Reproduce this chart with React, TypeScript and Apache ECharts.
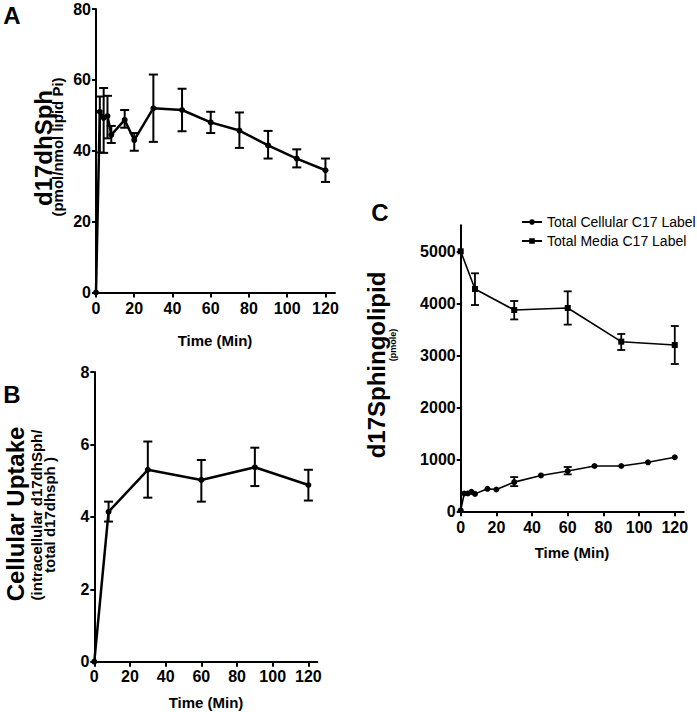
import React, { useEffect, useRef } from "react";
import * as echarts from "echarts";

// Panel A: d17dhSph
const tA = [0, 2, 4, 6, 8, 15, 20, 30, 45, 60, 75, 90, 105, 120];
const vA = [0, 51, 49.3, 49.8, 44.5, 48.7, 43, 52, 51.5, 48, 45.7, 41.5, 37.8, 34.5];
const lowA = [null, 39.5, 39.4, 43.5, 42.2, 46.5, 40, 42.5, 45.5, 45, 40.8, 37.8, 35.3, 31.2];
const highA = [null, 55.3, 57.7, 55.5, 47, 51.5, 45, 61.5, 57.5, 51, 50.8, 45.6, 40.4, 37.8];

// Panel B: Cellular uptake
const tB = [0, 8, 30, 60, 90, 120];
const vB = [0, 4.14, 5.3, 5.02, 5.37, 4.88];
const lowB = [null, 3.87, 4.53, 4.42, 4.85, 4.45];
const highB = [null, 4.42, 6.08, 5.57, 5.91, 5.3];

// Panel C: d17Sphingolipid
const tCell = [0, 2, 4, 6, 8, 15, 20, 30, 45, 60, 75, 90, 105, 120];
const vCell = [20, 342, 342, 374, 335, 432, 419, 561, 690, 774, 871, 871, 942, 1039];
const lowCell = [null, null, null, null, null, null, null, 484, null, 710, null, null, null, null];
const highCell = [null, null, null, null, null, null, null, 658, null, 852, null, null, null, null];
const tMed = [0, 8, 30, 60, 90, 120];
const vMed = [5000, 4275, 3871, 3910, 3262, 3198];
const lowMed = [null, 3967, 3690, 3590, 3102, 2833];
const highMed = [null, 4577, 4044, 4230, 3410, 3563];

const xTicks = [0, 20, 40, 60, 80, 100, 120];
const yTicksA = [0, 20, 40, 60, 80];
const yTicksB = [0, 2, 4, 6, 8];
const yTicksC = [0, 1000, 2000, 3000, 4000, 5000];

const seriesNameCell = "Total Cellular C17 Label";
const seriesNameMed = "Total Media C17 Label";

const FONT = "Liberation Sans, Arial, sans-serif";

function pairs(t: number[], v: number[]) {
  return t.map((x, i) => [x, v[i]]);
}
function errData(t: number[], lo: (number | null)[], hi: (number | null)[]) {
  const out: number[][] = [];
  t.forEach((x, i) => {
    if (lo[i] != null && hi[i] != null) out.push([x, lo[i] as number, hi[i] as number]);
  });
  return out;
}

function errSeries(data: number[][], idx: number, lw: number, cap: number) {
  return {
    type: "custom",
    xAxisIndex: idx,
    yAxisIndex: idx,
    z: 5,
    silent: true,
    encode: { x: 0, y: [1, 2] },
    data,
    renderItem: (params: any, api: any) => {
      const x = api.value(0);
      const p1 = api.coord([x, api.value(1)]);
      const p2 = api.coord([x, api.value(2)]);
      const st = { stroke: "#000", lineWidth: lw };
      return {
        type: "group",
        children: [
          { type: "line", shape: { x1: p1[0], y1: p1[1], x2: p2[0], y2: p2[1] }, style: st },
          { type: "line", shape: { x1: p1[0] - cap, y1: p1[1], x2: p1[0] + cap, y2: p1[1] }, style: st },
          { type: "line", shape: { x1: p2[0] - cap, y1: p2[1], x2: p2[0] + cap, y2: p2[1] }, style: st },
        ],
      };
    },
  };
}

function xAxis(idx: number, margin: number) {
  return {
    type: "value",
    gridIndex: idx,
    min: 0,
    max: 125,
    axisLine: { show: true, onZero: false, lineStyle: { color: "#000", width: 2 } },
    axisTick: { show: true, length: 5, inside: false, customValues: xTicks, lineStyle: { color: "#000", width: 2 } },
    axisLabel: {
      customValues: xTicks,
      formatter: (v: number) => String(v),
      fontFamily: FONT,
      fontWeight: "bold",
      fontSize: 16,
      color: "#000",
      margin,
    },
    splitLine: { show: false },
  };
}

function yAxis(idx: number, max: number, ticks: number[]) {
  return {
    type: "value",
    gridIndex: idx,
    min: 0,
    max,
    axisLine: { show: true, onZero: false, lineStyle: { color: "#000", width: 2 } },
    axisTick: { show: true, length: 4, customValues: ticks, lineStyle: { color: "#000", width: 2 } },
    axisLabel: {
      customValues: ticks,
      formatter: (v: number) => String(v),
      fontFamily: FONT,
      fontWeight: "bold",
      fontSize: 16,
      color: "#000",
      margin: 5,
    },
    splitLine: { show: false },
  };
}

function vtext(text: string, x: number, y: number, size: number, weight = "bold") {
  return {
    type: "text",
    x,
    y,
    rotation: Math.PI / 2,
    style: {
      text,
      font: `${weight} ${size}px ${FONT}`,
      fill: "#000",
      textAlign: "center",
      textVerticalAlign: "middle",
    },
  };
}
function htext(text: string, x: number, y: number, size: number, weight = "bold") {
  return {
    type: "text",
    x,
    y,
    style: {
      text,
      font: `${weight} ${size}px ${FONT}`,
      fill: "#000",
      textAlign: "center",
      textVerticalAlign: "middle",
    },
  };
}

export default function App() {
  const ref = useRef<HTMLDivElement>(null);
  useEffect(() => {
    if (!ref.current) return;
    const chart = echarts.init(ref.current, undefined, { renderer: "svg" });
    chart.setOption({
      animation: false,
      backgroundColor: "#fff",
      grid: [
        { left: 96, top: 9, width: 239, height: 283.5 },
        { left: 94.3, top: 372, width: 223, height: 289.7 },
        { left: 460.7, top: 225.3, width: 223, height: 286 },
      ],
      xAxis: [xAxis(0, 8), xAxis(1, 7), xAxis(2, 8)],
      yAxis: [yAxis(0, 80, yTicksA), yAxis(1, 8, yTicksB), yAxis(2, 5500, yTicksC)],
      legend: {
        data: [seriesNameCell, seriesNameMed],
        orient: "vertical",
        left: 516,
        top: 210,
        itemWidth: 20,
        itemHeight: 7,
        itemGap: 5,
        textStyle: { fontFamily: FONT, fontSize: 14, color: "#000" },
      },
      series: [
        {
          type: "line",
          xAxisIndex: 0,
          yAxisIndex: 0,
          data: pairs(tA, vA),
          symbol: "circle",
          symbolSize: 6,
          itemStyle: { color: "#000" },
          lineStyle: { color: "#000", width: 2.5 },
          z: 4,
        },
        errSeries(errData(tA, lowA, highA), 0, 2, 4.5),
        {
          type: "line",
          xAxisIndex: 1,
          yAxisIndex: 1,
          data: pairs(tB, vB),
          symbol: "circle",
          symbolSize: 6,
          itemStyle: { color: "#000" },
          lineStyle: { color: "#000", width: 2.5 },
          z: 4,
        },
        errSeries(errData(tB, lowB, highB), 1, 2, 4.5),
        {
          name: seriesNameCell,
          type: "line",
          xAxisIndex: 2,
          yAxisIndex: 2,
          data: pairs(tCell, vCell),
          symbol: "circle",
          symbolSize: 6,
          itemStyle: { color: "#000" },
          lineStyle: { color: "#000", width: 1.6 },
          z: 4,
        },
        errSeries(errData(tCell, lowCell, highCell), 2, 1.8, 4),
        {
          name: seriesNameMed,
          type: "line",
          xAxisIndex: 2,
          yAxisIndex: 2,
          data: pairs(tMed, vMed),
          symbol: "rect",
          symbolSize: 6,
          itemStyle: { color: "#000" },
          lineStyle: { color: "#000", width: 1.6 },
          z: 4,
        },
        errSeries(errData(tMed, lowMed, highMed), 2, 1.8, 4),
      ],
      graphic: [
        htext("A", 12, 15, 24),
        vtext("d17dhSph", 43, 148, 24),
        vtext("(pmol/nmol lipid Pi)", 57, 147, 15),
        htext("Time (Min)", 215, 340, 15),
        htext("B", 12, 394, 24),
        vtext("Cellular Uptake", 15, 514, 24),
        vtext("(intracellular d17dhSph/", 36, 515, 15),
        vtext("total d17dhsph )", 49, 515, 15),
        htext("Time (Min)", 206, 702, 15),
        htext("C", 380, 212, 24),
        vtext("d17Sphingolipid", 376, 365, 24),
        vtext("(pmole)", 393, 345, 9),
        htext("Time (Min)", 572, 552, 15),
      ],
    });
    return () => chart.dispose();
  }, []);
  return (
    <div
      ref={ref}
      style={{ position: "absolute", left: 0, top: 0, width: 697, height: 712, background: "#fff" }}
    />
  );
}
